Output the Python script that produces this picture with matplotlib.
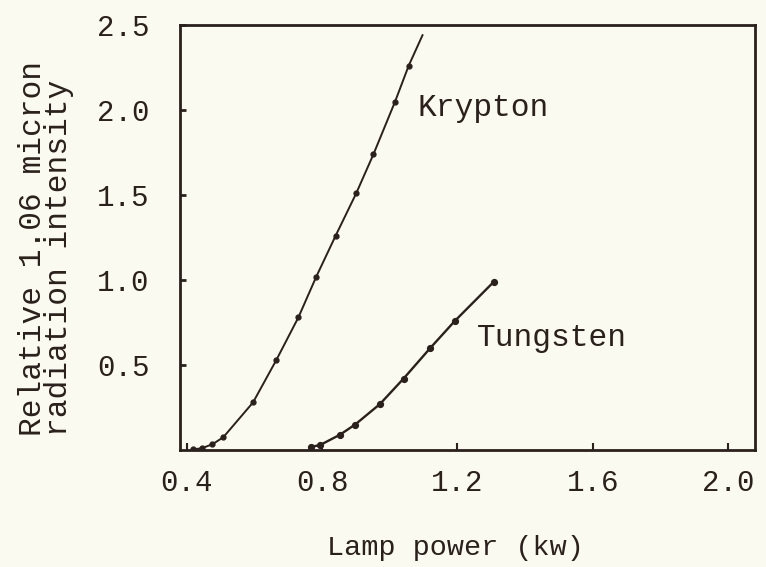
import matplotlib
matplotlib.use('Agg')
import matplotlib.pyplot as plt

# ---- data ----
krypton_x = [0.419, 0.444, 0.476, 0.508, 0.596, 0.665, 0.730, 0.783, 0.840, 0.901, 0.952, 1.016, 1.056]
krypton_y = [0.004, 0.010, 0.034, 0.075, 0.280, 0.530, 0.780, 1.020, 1.260, 1.510, 1.740, 2.050, 2.260]
krypton_end_x = [1.097]
krypton_end_y = [2.44]

tungsten_x = [0.768, 0.795, 0.853, 0.898, 0.971, 1.041, 1.120, 1.193, 1.308]
tungsten_y = [0.018, 0.030, 0.090, 0.150, 0.270, 0.420, 0.600, 0.760, 0.990]

x_ticks = [0.4, 0.8, 1.2, 1.6, 2.0]
x_tick_labels = ["0.4", "0.8", "1.2", "1.6", "2.0"]
y_ticks = [0.5, 1.0, 1.5, 2.0, 2.5]
y_tick_labels = ["0.5", "1.0", "1.5", "2.0", "2.5"]

series_labels = ["Krypton", "Tungsten"]
x_label = "Lamp power (kw)"
y_label_lines = ["Relative 1.06 micron", "radiation intensity"]

# ---- style ----
BG = "#fbfaf0"
INK = "#2a201c"
FONT = ["Liberation Mono", "DejaVu Sans Mono"]
plt.rcParams['font.family'] = FONT

W, H = 766, 567
fig = plt.figure(figsize=(W / 100, H / 100), dpi=100, facecolor=BG)
left, right, top, bottom = 180, 755, 25, 450
ax = fig.add_axes([left / W, (H - bottom) / H, (right - left) / W, (bottom - top) / H])
ax.set_facecolor(BG)

ax.plot(krypton_x + krypton_end_x, krypton_y + krypton_end_y, color=INK, lw=1.4)
ax.plot(krypton_x, krypton_y, 'o', color=INK, ms=3.5)
ax.plot(tungsten_x, tungsten_y, color=INK, lw=1.7)
ax.plot(tungsten_x, tungsten_y, 'o', color=INK, ms=4.2)

ax.set_xlim(0.38, 2.08)
ax.set_ylim(0, 2.5)
ax.set_xticks(x_ticks)
ax.set_xticklabels(x_tick_labels)
ax.set_yticks(y_ticks)
ax.set_yticklabels(y_tick_labels)
ax.tick_params(axis='x', direction='in', length=5, width=1.5, colors=INK,
               labelsize=21, pad=14)
ax.tick_params(axis='y', direction='in', length=4, width=2, colors=INK,
               labelsize=21, pad=22)
for s in ax.spines.values():
    s.set_color(INK)
    s.set_linewidth(2)

ax.text(1.081, 2.01, series_labels[0], ha='left', va='center', fontsize=22.5, color=INK)
ax.text(1.259, 0.66, series_labels[1], ha='left', va='center', fontsize=22.5, color=INK)

fig.text(455 / W, (H - 548) / H, x_label, ha='center', va='center', fontsize=20.5, color=INK)
fig.text(46 / W, (H - 436) / H, "\n".join(y_label_lines), rotation=90,
         ha='center', va='bottom', multialignment='left', linespacing=0.8,
         fontsize=22.5, color=INK)

fig.savefig("out.png", dpi=100, facecolor=BG)
